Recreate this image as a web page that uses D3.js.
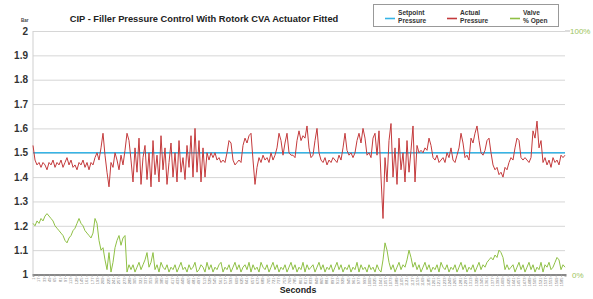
<html>
<head>
  <meta charset="UTF-8">
  <title>CIP - Filler Pressure Control</title>
  <script src="https://d3js.org/d3.v7.min.js"></script>
  <style>
    body { margin: 0; background: #fff; }
    text { font-family: "Liberation Sans", Arial, sans-serif; }
  </style>
</head>
<body>
  <svg id="chart" width="593" height="299"></svg>
  <script>
    /* Data */
    // actual pressure, bar, one reading every 6 seconds
    const actualPressure = [
      1.53, 1.47, 1.45, 1.46, 1.44, 1.46, 1.45, 1.43, 1.46, 1.45,
      1.47, 1.44, 1.46, 1.45, 1.47, 1.44, 1.46, 1.48, 1.45, 1.47,
      1.44, 1.45, 1.43, 1.46, 1.45, 1.47, 1.44, 1.46, 1.43, 1.46,
      1.45, 1.48, 1.50, 1.47, 1.52, 1.58, 1.49, 1.42, 1.36, 1.46,
      1.44, 1.50, 1.47, 1.43, 1.49, 1.45, 1.51, 1.58, 1.55, 1.47,
      1.38, 1.52, 1.42, 1.56, 1.37, 1.48, 1.53, 1.39, 1.50, 1.36,
      1.55, 1.41, 1.49, 1.38, 1.57, 1.43, 1.52, 1.37, 1.46, 1.54,
      1.40, 1.50, 1.38, 1.55, 1.42, 1.48, 1.39, 1.53, 1.44, 1.57,
      1.40, 1.60, 1.42, 1.55, 1.38, 1.52, 1.40, 1.50, 1.47, 1.50,
      1.48, 1.50, 1.47, 1.48, 1.46, 1.47, 1.46, 1.50, 1.55, 1.54,
      1.47, 1.45, 1.46, 1.47, 1.46, 1.53, 1.56, 1.54, 1.57, 1.58,
      1.47, 1.37, 1.44, 1.48, 1.46, 1.49, 1.47, 1.48, 1.46, 1.50,
      1.47, 1.49, 1.52, 1.58, 1.55, 1.49, 1.54, 1.58, 1.50, 1.49,
      1.49, 1.48, 1.55, 1.59, 1.55, 1.57, 1.56, 1.61, 1.52, 1.48,
      1.49, 1.55, 1.60, 1.50, 1.47, 1.46, 1.48, 1.45, 1.47, 1.46,
      1.48, 1.47, 1.46, 1.49, 1.47, 1.52, 1.58, 1.51, 1.49, 1.50,
      1.48, 1.50, 1.55, 1.58, 1.54, 1.60, 1.56, 1.49, 1.50, 1.48,
      1.56, 1.58, 1.49, 1.59, 1.40, 1.23, 1.48, 1.38, 1.55, 1.62,
      1.40, 1.52, 1.37, 1.56, 1.43, 1.50, 1.38, 1.55, 1.42, 1.51,
      1.61, 1.38, 1.53, 1.50, 1.51, 1.50, 1.52, 1.51, 1.56, 1.53,
      1.48, 1.47, 1.49, 1.46, 1.47, 1.48, 1.46, 1.50, 1.48, 1.52,
      1.47, 1.46, 1.49, 1.52, 1.58, 1.54, 1.48, 1.49, 1.47, 1.56,
      1.54, 1.58, 1.61, 1.55, 1.50, 1.49, 1.51, 1.55, 1.56, 1.50,
      1.45, 1.43, 1.44, 1.41, 1.42, 1.40, 1.44, 1.43, 1.46, 1.48,
      1.47, 1.52, 1.56, 1.55, 1.48, 1.47, 1.48, 1.47, 1.46, 1.48,
      1.59, 1.56, 1.63, 1.52, 1.55, 1.46, 1.48, 1.45, 1.47, 1.44,
      1.48, 1.46, 1.47, 1.45, 1.49, 1.48, 1.49
    ];

    // valve position, % open
    const valveOpen = [
      21, 20, 22, 21, 23, 22, 24, 25, 24, 23,
      22, 20, 19, 18, 17, 16, 14, 13, 15, 16,
      18, 19, 21, 23, 21, 20, 18, 17, 16, 15,
      17, 23, 21, 14, 10, 11, 6, 2, 9, 1,
      5, 11, 14, 16, 12, 15, 16, 1, 4, 2,
      4, 1, 3, 5, 2, 4, 6, 9, 3, 5,
      9, 2, 4, 1, 5, 3, 2, 4, 1, 3,
      2, 4, 1, 3, 5, 2, 3, 1, 4, 2,
      3, 5, 1, 2, 4, 3, 1, 5, 2, 4,
      1, 3, 2, 4, 5, 1, 3, 2, 4, 1,
      3, 5, 2, 4, 1, 3, 4, 2, 5, 1,
      4, 2, 3, 1, 5, 3, 2, 4, 1, 3,
      5, 2, 4, 1, 3, 2, 4, 1, 3, 5,
      2, 4, 1, 3, 2, 5, 1, 4, 2, 3,
      4, 1, 3, 5, 2, 4, 1, 3, 2, 4,
      1, 3, 5, 2, 4, 1, 3, 2, 4, 1,
      3, 2, 5, 1, 4, 2, 3, 1, 4, 2,
      3, 1, 4, 2, 1, 6, 13, 10, 5, 2,
      4, 1, 3, 5, 2, 4, 3, 6, 10, 7,
      3, 5, 2, 4, 1, 3, 5, 2, 4, 1,
      3, 2, 4, 1, 5, 3, 2, 4, 1, 3,
      2, 4, 1, 3, 5, 2, 4, 1, 3, 2,
      4, 1, 3, 5, 2, 4, 3, 5, 6, 7,
      6, 8, 7, 10, 9, 7, 2, 4, 2, 3,
      4, 1, 3, 5, 2, 4, 1, 3, 5, 2,
      4, 1, 3, 2, 5, 1, 4, 3, 5, 2,
      3, 5, 7, 6, 2, 4, 3
    ];

    const setpoint = 1.5;
    const sampleSeconds = 6;
    const pressureTicks = [1, 1.1, 1.2, 1.3, 1.4, 1.5, 1.6, 1.7, 1.8, 1.9, 2];
    const secondLabels = d3.range(1, 1597, 16);

    /* Constants */
    const margin = { top: 31, right: 28, bottom: 24.5, left: 33 };
    const svg = d3.select("#chart");
    const width = +svg.attr("width");
    const height = +svg.attr("height");
    const chartWidth = width - margin.left - margin.right;
    const chartHeight = height - margin.top - margin.bottom;

    const red = "#c43a3c";
    const blue = "#36b4e6";
    const green = "#8fc045";

    const xScale = d3.scaleLinear()
      .domain([1, 1 + (actualPressure.length - 1) * sampleSeconds])
      .range([0, chartWidth]);
    const yScale = d3.scaleLinear().domain([1, 2]).range([chartHeight, 0]);
    const valveScale = d3.scaleLinear().domain([0, 100]).range([chartHeight, 0]);

    const area = svg.append("g").attr("transform", `translate(${margin.left},${margin.top})`);

    // gridlines
    let gridlines = d3.axisLeft(yScale).tickValues(pressureTicks.slice(1)).tickSize(-chartWidth).tickFormat("");
    area.append("g").attr("class", "y gridlines").call(gridlines)
      .call(g => g.select(".domain").remove())
      .selectAll("line").attr("stroke", "#d6d6d6");

    // left axis line + labels
    area.append("line")
      .attr("x1", 0).attr("x2", 0).attr("y1", 0).attr("y2", chartHeight)
      .attr("stroke", "#cfcfcf");
    let leftAxis = d3.axisLeft(yScale).tickValues(pressureTicks).tickSize(0).tickPadding(5)
      .tickFormat(d => d3.format("~g")(d));
    area.append("g").attr("class", "y axis").call(leftAxis)
      .call(g => g.select(".domain").remove())
      .selectAll("text")
      .attr("font-size", 10).attr("font-weight", "bold").attr("fill", "#333")
      .attr("font-family", "Liberation Sans, Arial, sans-serif");

    svg.append("text").attr("x", 21).attr("y", 22).attr("font-size", 4.5)
      .attr("font-weight", "bold").attr("fill", "#444").text("Bar");

    // right axis (valve %)
    area.append("line")
      .attr("x1", chartWidth).attr("x2", chartWidth + 5).attr("y1", 0).attr("y2", 0)
      .attr("stroke", "#bbb");
    area.append("text").attr("x", chartWidth + 5).attr("y", valveScale(100) + 3)
      .attr("font-size", 8).attr("fill", "#9cc45c").text("100%");
    area.append("text").attr("x", chartWidth + 7).attr("y", valveScale(0) + 3)
      .attr("font-size", 8).attr("fill", "#9cc45c").text("0%");

    // bottom axis with tiny second labels
    let bottomAxis = d3.axisBottom(xScale).tickValues(secondLabels).tickSize(2).tickFormat(d3.format("d"));
    const xAxisG = area.append("g").attr("class", "x axis")
      .attr("transform", `translate(0, ${chartHeight})`).call(bottomAxis);
    xAxisG.select(".domain").attr("stroke", "#888").attr("stroke-width", 2);
    xAxisG.selectAll("line").attr("stroke", "#999");
    xAxisG.selectAll("text")
      .attr("font-size", 4).attr("fill", "#777")
      .attr("transform", "rotate(-90)")
      .attr("text-anchor", "end")
      .attr("dy", "0.35em").attr("dx", "-3px").attr("y", 0).attr("x", 0);

    // series
    const pressureLine = d3.line()
      .x((d, i) => xScale(1 + i * sampleSeconds))
      .y(d => yScale(d));
    const valveLine = d3.line()
      .x((d, i) => xScale(1 + i * sampleSeconds))
      .y(d => valveScale(d));

    area.append("path").datum(valveOpen)
      .attr("d", valveLine).attr("fill", "none")
      .attr("stroke", green).attr("stroke-width", 1);

    area.append("line")
      .attr("x1", 0).attr("x2", chartWidth)
      .attr("y1", yScale(setpoint)).attr("y2", yScale(setpoint))
      .attr("stroke", blue).attr("stroke-width", 1.6);

    area.append("path").datum(actualPressure)
      .attr("d", pressureLine).attr("fill", "none")
      .attr("stroke", red).attr("stroke-width", 1);

    // title + axis title
    svg.append("text").attr("x", 204).attr("y", 22).attr("text-anchor", "middle")
      .attr("font-size", 9.3).attr("font-weight", "bold").attr("fill", "#222")
      .text("CIP - Filler Pressure Control With Rotork CVA Actuator Fitted");
    svg.append("text").attr("x", 298).attr("y", 292.5).attr("text-anchor", "middle")
      .attr("font-size", 8.8).attr("font-weight", "bold").attr("fill", "#222")
      .text("Seconds");

    // legend
    const legend = svg.append("g");
    legend.append("rect")
      .attr("x", 373.5).attr("y", 4.5).attr("width", 185).attr("height", 22)
      .attr("fill", "#fff").attr("stroke", "#999");
    const legendItems = [
      { x: 385, color: blue, lines: ["Setpoint", "Pressure"] },
      { x: 447, color: red, lines: ["Actual", "Pressure"] },
      { x: 510, color: green, lines: ["Valve", "% Open"] }
    ];
    legendItems.forEach(item => {
      legend.append("line")
        .attr("x1", item.x).attr("x2", item.x + 10).attr("y1", 18.5).attr("y2", 18.5)
        .attr("stroke", item.color).attr("stroke-width", 1.6);
      item.lines.forEach((t, j) => {
        legend.append("text").attr("x", item.x + 13).attr("y", 14.5 + j * 8.5)
          .attr("font-size", 6.6).attr("font-weight", "bold").attr("fill", "#333").text(t);
      });
    });
  </script>
</body>
</html>
